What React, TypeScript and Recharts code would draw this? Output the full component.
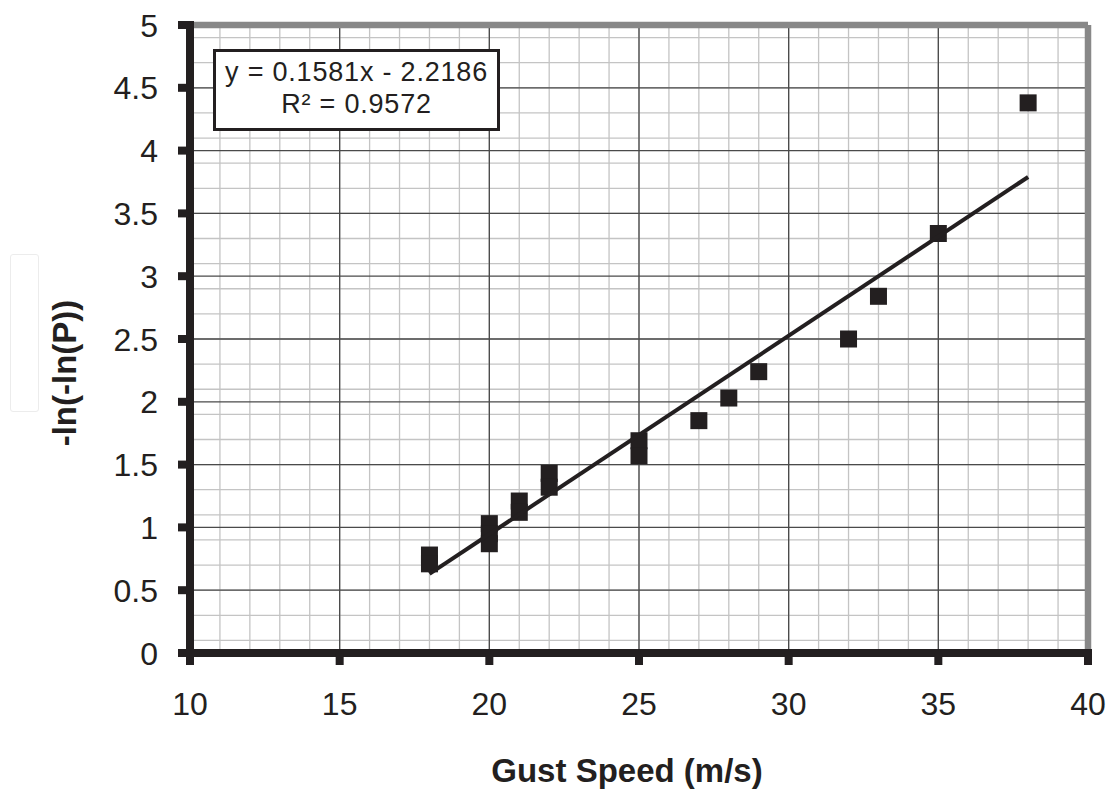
import React from 'react';
import { ComposedChart, Scatter, XAxis, YAxis, ZAxis, CartesianGrid } from 'recharts';

// gust speed (m/s) vs -ln(-ln(P))
const gustX = [18, 18, 20, 20, 20, 21, 21, 22, 22, 25, 25, 27, 28, 29, 32, 33, 35, 38];
const gumbelY = [0.78, 0.71, 1.03, 0.95, 0.87, 1.21, 1.12, 1.43, 1.32, 1.69, 1.57, 1.85, 2.03, 2.24, 2.5, 2.84, 3.34, 4.38];

// linear fit drawn by the spreadsheet, end points only
const fitX = [18, 38];
const fitY = [0.63, 3.79];

const xTicks = [10, 15, 20, 25, 30, 35, 40];
const yTicks = [0, 0.5, 1, 1.5, 2, 2.5, 3, 3.5, 4, 4.5, 5];

const equationText = 'y = 0.1581x - 2.2186';
const r2Text = 'R² = 0.9572';

const INK = '#231f20';
const FRAME_GRAY = '#888888';
const FONT = '"Liberation Sans", Arial, sans-serif';

const X_MIN = 10;
const X_MAX = 40;
const Y_MIN = 0;
const Y_MAX = 5;

const points = gustX.map((x, i) => ({ x, y: gumbelY[i] }));
const fitLine = fitX.map((x, i) => ({ x, y: fitY[i] }));

// plot frame: black axes on left/bottom, grey edge top/right
const bottomEdge = [{ x: X_MIN, y: Y_MIN }, { x: X_MAX, y: Y_MIN }];
const leftEdge = [{ x: X_MIN, y: Y_MIN }, { x: X_MIN, y: Y_MAX }];
const topEdge = [{ x: X_MIN, y: Y_MAX }, { x: X_MAX, y: Y_MAX }];
const rightEdge = [{ x: X_MAX, y: Y_MIN }, { x: X_MAX, y: Y_MAX }];

// grid inside the frame: minor every 1 m/s and every 0.1, major at the ticks
const minorX = Array.from({ length: 29 }, (_, i) => 11 + i);
const minorY = Array.from({ length: 49 }, (_, i) => (i + 1) / 10);
const majorX = xTicks.slice(1, -1);
const majorY = yTicks.slice(1, -1);

const noDot = () => <g />;

const SquareDot = (props: any) => {
  const { cx, cy } = props;
  if (cx == null || cy == null) return <g />;
  return <rect x={cx - 8.5} y={cy - 8.5} width={17} height={17} fill={INK} />;
};

const XTick = (props: any) => {
  const { x, y, payload } = props;
  return (
    <g>
      <rect x={x - 4} y={y} width={8} height={12} fill={INK} />
      <text x={x} y={y + 62} textAnchor="middle" fill={INK} fontFamily={FONT} fontSize={32}>
        {payload.value}
      </text>
    </g>
  );
};

const YTick = (props: any) => {
  const { x, y, payload } = props;
  return (
    <g>
      <rect x={x - 12} y={y - 4} width={12} height={8} fill={INK} />
      <text x={x - 32} y={y + 11.5} textAnchor="end" fill={INK} fontFamily={FONT} fontSize={32}>
        {payload.value}
      </text>
    </g>
  );
};

const XLabel = (props: any) => {
  const { viewBox } = props;
  return (
    <text
      x={viewBox.x + viewBox.width / 2 - 12}
      y={viewBox.y + 129}
      textAnchor="middle"
      fill={INK}
      fontFamily={FONT}
      fontWeight="bold"
      fontSize={33}
    >
      Gust Speed (m/s)
    </text>
  );
};

const YLabel = () => {
  const cx = 64;
  const cy = 373;
  return (
    <text
      x={cx}
      y={cy}
      transform={`rotate(-90, ${cx}, ${cy})`}
      textAnchor="middle"
      dominantBaseline="central"
      fill={INK}
      fontFamily={FONT}
      fontWeight="bold"
      fontSize={33}
    >
      -ln(-ln(P))
    </text>
  );
};

export default function App() {
  return (
    <div style={{ position: 'absolute', left: 0, top: 0, width: 1111, height: 790, background: '#fff' }}>
      <ComposedChart width={1111} height={790} margin={{ top: 25, right: 23, bottom: 0, left: 0 }}>
        <CartesianGrid stroke="#c4c4c4" strokeWidth={1.3} verticalValues={minorX} horizontalValues={minorY} />
        <CartesianGrid stroke="#4a4a4a" strokeWidth={1.3} verticalValues={majorX} horizontalValues={majorY} />
        <XAxis
          type="number"
          dataKey="x"
          domain={[X_MIN, X_MAX]}
          ticks={xTicks}
          height={137}
          axisLine={false}
          tickLine={false}
          tickSize={0}
          tickMargin={0}
          tick={<XTick />}
          label={<XLabel />}
        />
        <YAxis
          type="number"
          dataKey="y"
          domain={[Y_MIN, Y_MAX]}
          ticks={yTicks}
          width={190}
          axisLine={false}
          tickLine={false}
          tickSize={0}
          tickMargin={0}
          tick={<YTick />}
          label={<YLabel />}
        />
        <ZAxis range={[289, 289]} />
        <Scatter data={topEdge} line={{ stroke: FRAME_GRAY, strokeWidth: 6.5 }} shape={noDot} isAnimationActive={false} legendType="none" />
        <Scatter data={rightEdge} line={{ stroke: FRAME_GRAY, strokeWidth: 6.5 }} shape={noDot} isAnimationActive={false} legendType="none" />
        <Scatter data={bottomEdge} line={{ stroke: INK, strokeWidth: 8, strokeLinecap: 'square' }} shape={noDot} isAnimationActive={false} legendType="none" />
        <Scatter data={leftEdge} line={{ stroke: INK, strokeWidth: 8, strokeLinecap: 'square' }} shape={noDot} isAnimationActive={false} legendType="none" />
        <Scatter data={points} shape={<SquareDot />} isAnimationActive={false} legendType="none" />
        <Scatter data={fitLine} line={{ stroke: INK, strokeWidth: 4 }} shape={noDot} isAnimationActive={false} legendType="none" />
      </ComposedChart>
      <div
        style={{
          position: 'absolute',
          left: 213,
          top: 49,
          width: 281,
          height: 72,
          border: `3px solid ${INK}`,
          background: '#fff',
          fontFamily: FONT,
          fontSize: 27,
          letterSpacing: 0.8,
          color: INK,
          textAlign: 'center',
          lineHeight: '32px',
          paddingTop: 4,
          boxSizing: 'content-box',
        }}
      >
        <div>{equationText}</div>
        <div>{r2Text}</div>
      </div>
      <div
        style={{
          position: 'absolute',
          left: 10,
          top: 254,
          width: 27,
          height: 156,
          border: '1px solid #ececec',
          borderRadius: 3,
        }}
      />
    </div>
  );
}
